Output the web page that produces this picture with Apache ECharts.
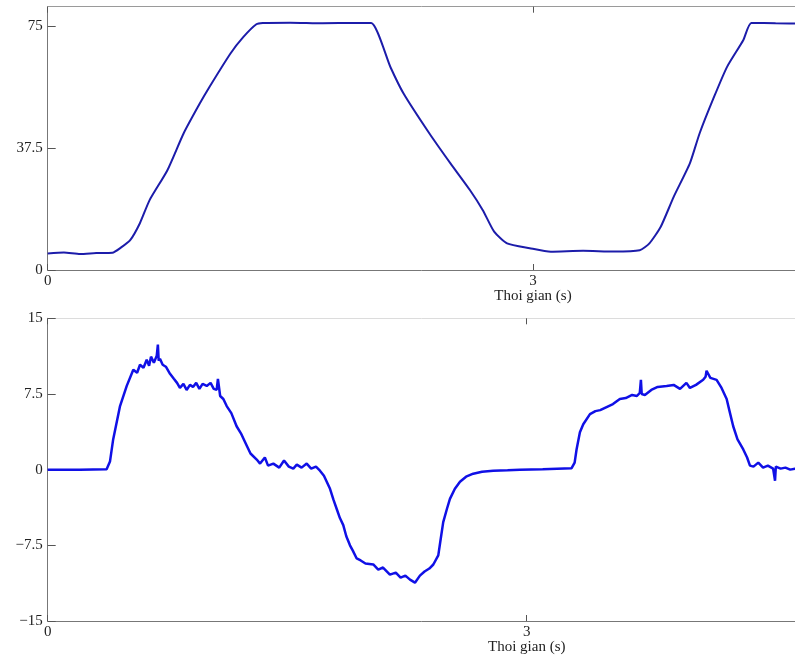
<!DOCTYPE html>
<html>
<head>
<meta charset="utf-8">
<script src="https://cdn.jsdelivr.net/npm/echarts@6/dist/echarts.min.js"></script>
<style>
html,body{margin:0;padding:0;background:#fff;}
#chart{width:795px;height:655px;}
</style>
</head>
<body>
<div id="chart"></div>
<script>
// ---- Data ----
const xAxisName = 'Thoi gian (s)';
const xTickValues = [0, 3];
const yTicksTop = [0, 37.5, 75];
const yTicksBottom = [-15, -7.5, 0, 7.5, 15];

// Top panel: position signal
const timeTop = [0, 0.1, 0.2, 0.3, 0.40, 0.45, 0.51, 0.57, 0.63, 0.74,
  0.84, 0.94, 1.00, 1.13, 1.21, 1.29, 1.33, 1.5, 1.7, 1.9,
  2.00, 2.12, 2.20, 2.36, 2.49, 2.61, 2.69, 2.76, 2.84, 2.98,
  3.11, 3.31, 3.5, 3.66, 3.72, 3.79, 3.87, 3.97, 4.03, 4.12,
  4.20, 4.30, 4.35, 4.5, 4.68];
const valueTop = [5.1, 5.4, 4.9, 5.2, 5.3, 6.8, 9.2, 14.4, 21.5, 30.7,
  42.0, 51.2, 56.3, 66.6, 71.7, 75.6, 76.0, 76.1, 75.9, 76.0,
  76.0, 62.3, 54.3, 42.0, 32.8, 24.6, 18.4, 11.8, 8.2, 6.7,
  5.6, 5.9, 5.7, 6.1, 8.2, 13.3, 22.5, 32.8, 42.0, 53.3,
  62.5, 70.7, 76.0, 75.9, 75.8];

// Bottom panel: velocity signal
const timeBottom = [
  0, 0.2, 0.369, 0.39, 0.41, 0.453, 0.495, 0.536, 0.56, 0.578,
  0.60, 0.62, 0.635, 0.647, 0.665, 0.683, 0.69, 0.695, 0.703, 0.72,
  0.74, 0.766, 0.79, 0.81, 0.828, 0.85, 0.87, 0.891, 0.91, 0.93,
  0.95, 0.97, 0.996, 1.02, 1.04, 1.058, 1.066, 1.08, 1.10, 1.121,
  1.15, 1.183, 1.21, 1.246, 1.27, 1.309, 1.33, 1.36, 1.38, 1.413,
  1.45, 1.48, 1.51, 1.538, 1.56, 1.59, 1.622, 1.65, 1.68, 1.705,
  1.73, 1.768, 1.79, 1.81, 1.83, 1.851, 1.87, 1.893, 1.91, 1.935,
  1.96, 1.99, 2.039, 2.07, 2.10, 2.143, 2.18, 2.21, 2.24, 2.269,
  2.30, 2.331, 2.36, 2.39, 2.415, 2.446, 2.46, 2.477, 2.50, 2.519,
  2.55, 2.582, 2.62, 2.665, 2.72, 2.79, 2.88, 2.957, 3.1, 3.281,
  3.30, 3.312, 3.333, 3.354, 3.396, 3.43, 3.46, 3.50, 3.54, 3.583,
  3.62, 3.66, 3.69, 3.708, 3.715, 3.72, 3.74, 3.78, 3.82, 3.876,
  3.92, 3.96, 4.0, 4.022, 4.06, 4.105, 4.12, 4.126, 4.15, 4.189,
  4.22, 4.252, 4.27, 4.293, 4.32, 4.356, 4.38, 4.398, 4.42, 4.45,
  4.48, 4.51, 4.543, 4.555, 4.56, 4.59, 4.62, 4.65, 4.68, 4.74];
const valueBottom = [
  0, 0, 0.05, 0.8, 3.0, 6.3, 8.3, 9.9, 9.6, 10.4,
  10.1, 10.9, 10.3, 11.2, 10.6, 11.3, 12.4, 10.8, 11.0, 10.4,
  10.2, 9.5, 9.0, 8.6, 8.1, 8.5, 7.9, 8.4, 8.2, 8.6,
  8.0, 8.5, 8.3, 8.6, 8.0, 7.9, 9.0, 7.3, 7.0, 6.3,
  5.6, 4.3, 3.6, 2.4, 1.6, 1.0, 0.6, 1.2, 0.4, 0.6,
  0.2, 0.9, 0.3, 0.1, 0.5, 0.2, 0.6, 0.1, 0.3, -0.1,
  -0.6, -1.9, -3.0, -3.9, -4.8, -5.5, -6.6, -7.5, -8.0, -8.8,
  -9.0, -9.3, -9.4, -9.9, -9.7, -10.4, -10.2, -10.7, -10.5, -10.9,
  -11.2, -10.5, -10.1, -9.8, -9.4, -8.5, -7.0, -5.2, -3.9, -2.9,
  -1.9, -1.2, -0.7, -0.4, -0.2, -0.1, -0.05, 0, 0.05, 0.15,
  0.7, 2.0, 3.7, 4.5, 5.5, 5.8, 5.9, 6.2, 6.5, 7.0,
  7.1, 7.4, 7.3, 7.6, 8.9, 7.5, 7.4, 7.9, 8.2, 8.3,
  8.4, 8.0, 8.6, 8.1, 8.4, 8.9, 9.2, 9.8, 9.1, 8.9,
  8.1, 7.0, 5.8, 4.3, 3.0, 2.0, 1.2, 0.4, 0.3, 0.7,
  0.2, 0.4, 0.1, -1.1, 0.3, 0.1, 0.2, 0.0, 0.1, 0.1];

// ---- Build ----
const topData = timeTop.map((t, i) => [t, valueTop[i]]);
const bottomData = timeBottom.map((t, i) => [t, valueBottom[i]]);

const FONT = 'Liberation Serif';
const labelStyle = { fontFamily: FONT, fontSize: 15, color: '#222' };
const fmtNum = v => String(v).replace('-', '\u2212');

function xAxisMain(grid, max) {
  return {
    gridIndex: grid, type: 'value', min: 0, max: max, interval: 3,
    splitLine: { show: false },
    axisLine: { show: true, onZero: false, lineStyle: { color: '#777', width: 1 } },
    axisTick: { show: true, inside: true, length: 6, lineStyle: { color: '#555' } },
    axisLabel: Object.assign({}, labelStyle, {
      margin: 4, lineHeight: 15, showMaxLabel: false,
      formatter: v => v === 3 ? '3\n' + xAxisName : (xTickValues.includes(v) ? String(v) : '')
    })
  };
}
function xAxisTop(grid, max, lineColor) {
  return {
    gridIndex: grid, type: 'value', min: 0, max: max, interval: 3, position: 'top',
    splitLine: { show: false },
    axisLine: { show: true, onZero: false, lineStyle: { color: lineColor, width: 1 } },
    axisTick: { show: true, inside: true, length: 6, lineStyle: { color: '#555' } },
    axisLabel: { show: false }
  };
}
function yAxisMain(grid, min, max, interval, ticks) {
  return {
    gridIndex: grid, type: 'value', min: min, max: max, interval: interval,
    splitLine: { show: false },
    axisLine: { show: true, onZero: false, lineStyle: { color: '#777', width: 1 } },
    axisTick: { show: true, inside: true, length: 8, lineStyle: { color: '#555' } },
    axisLabel: Object.assign({}, labelStyle, {
      margin: 5, showMaxLabel: ticks.includes(max),
      formatter: v => ticks.includes(v) ? fmtNum(v) : ''
    })
  };
}

const chart = echarts.init(document.getElementById('chart'), null, { renderer: 'canvas' });
chart.setOption({
  animation: false,
  backgroundColor: '#fff',
  grid: [
    { left: 47.7, top: 6.7, right: 0, bottom: 385, show: false },
    { left: 47.7, top: 318.3, right: 0, bottom: 31.7, show: false }
  ],
  xAxis: [
    xAxisMain(0, 4.62), xAxisTop(0, 4.62, '#9a9a9a'),
    xAxisMain(1, 4.68), xAxisTop(1, 4.68, '#dcdcdc')
  ],
  yAxis: [
    yAxisMain(0, 0, 81, 37.5, yTicksTop),
    yAxisMain(1, -15, 15, 7.5, yTicksBottom)
  ],
  series: [
    { type: 'line', xAxisIndex: 0, yAxisIndex: 0, data: topData, showSymbol: false,
      smooth: 0.2, lineStyle: { color: '#1c1caa', width: 2 } },
    { type: 'line', xAxisIndex: 2, yAxisIndex: 1, data: bottomData, showSymbol: false,
      lineStyle: { color: '#1010e6', width: 2.5 } }
  ]
});
</script>
</body>
</html>
